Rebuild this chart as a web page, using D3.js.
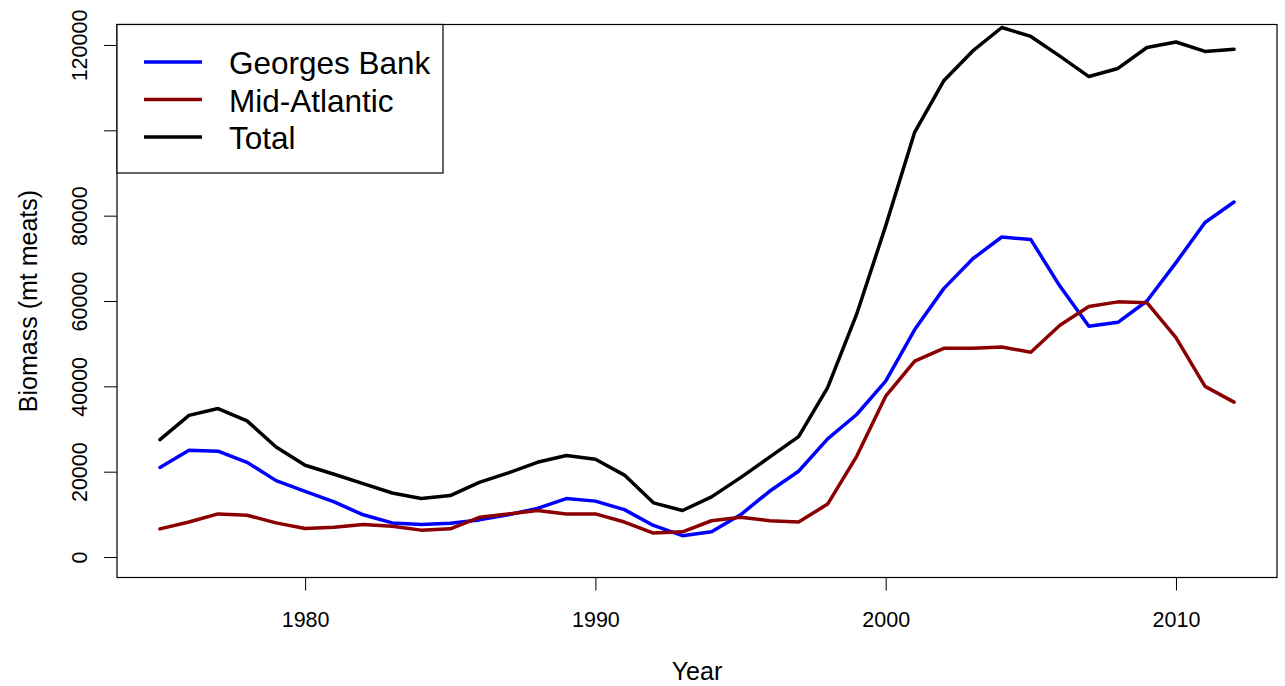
<!DOCTYPE html>
<html>
<head>
<meta charset="utf-8">
<script src="https://cdn.jsdelivr.net/npm/d3@7"></script>
<style>
  body { margin: 0; background: #fff; }
  text { font-family: "Liberation Sans", Arial, sans-serif; fill: #000; }
</style>
</head>
<body>
<div class="chart"></div>
<script>
var width = 1285;
var height = 686;

// data
var years = [1975, 1976, 1977, 1978, 1979, 1980, 1981, 1982, 1983, 1984,
             1985, 1986, 1987, 1988, 1989, 1990, 1991, 1992, 1993, 1994,
             1995, 1996, 1997, 1998, 1999, 2000, 2001, 2002, 2003, 2004,
             2005, 2006, 2007, 2008, 2009, 2010, 2011, 2012];

var georges_bank = [21000, 25000, 24800, 22200, 17900, 15400, 12900, 9900, 8000, 7600,
                    7900, 8700, 9900, 11400, 13700, 13100, 11100, 7400, 5000, 5900,
                    9900, 15400, 20100, 27700, 33400, 41200, 53300, 62900, 69900, 75000,
                    74400, 63500, 54100, 55000, 60000, 69000, 78400, 83200];

var mid_atlantic = [6600, 8200, 10100, 9800, 8000, 6700, 7000, 7600, 7200, 6300,
                    6600, 9300, 10100, 10900, 10100, 10100, 8200, 5600, 5900, 8500,
                    9300, 8500, 8200, 12400, 23600, 37700, 45900, 48900, 48900, 49200,
                    48000, 54300, 58700, 59800, 59600, 51400, 40000, 36300];

var total = [27500, 33200, 34800, 31900, 25800, 21500, 19400, 17200, 15000, 13700,
             14400, 17500, 19700, 22200, 23800, 22900, 19200, 12700, 10900, 14100,
             18600, 23400, 28200, 39700, 56900, 77600, 99600, 111600, 118600, 124100,
             122000, 117400, 112600, 114500, 119400, 120700, 118500, 119000];

var series_names = ["Georges Bank", "Mid-Atlantic", "Total"];
var series_colors = ["#0000ff", "#8b0000", "#000000"];

var x_ticks = [1980, 1990, 2000, 2010];
var y_ticks = [0, 20000, 40000, 60000, 80000, 100000, 120000];
var y_tick_labels = ["0", "20000", "40000", "60000", "80000", "", "120000"];

var margin = {
    top: 24.5,
    bottom: 108.5,
    left: 117,
    right: 8
}

var svg = d3.select(".chart").append("svg")
            .attr("width", width)
            .attr("height", height);

// scales (R style 4% padding)
var x_scale = d3.scaleLinear()
            .domain([1973.52, 2013.48])
            .range([margin.left, width - margin.right]);

var y_scale = d3.scaleLinear()
            .domain([-4800, 124800])
            .range([height - margin.bottom, margin.top]);

// lines
var line = d3.line()
            .x((d, i) => x_scale(years[i]))
            .y(d => y_scale(d));

var draw_order = [
    {values: total, color: series_colors[2]},
    {values: georges_bank, color: series_colors[0]},
    {values: mid_atlantic, color: series_colors[1]}
];

svg.append("g")
    .selectAll("path")
    .data(draw_order)
    .enter()
    .append("path")
    .attr("d", d => line(d.values))
    .attr("fill", "none")
    .attr("stroke", d => d.color)
    .attr("stroke-width", 3.5)
    .attr("stroke-linejoin", "round")
    .attr("stroke-linecap", "round");

// axes
var x_axis = svg.append("g")
            .attr("transform", "translate(0," + (height - margin.bottom) + ")")
            .call(d3.axisBottom(x_scale).tickValues(x_ticks).tickSize(13).tickFormat(d3.format("d")));
x_axis.select(".domain").remove();
x_axis.selectAll("line").attr("stroke", "#000");
x_axis.selectAll("text")
    .attr("y", 49.5)
    .attr("dy", null)
    .attr("font-size", "21.5px")
    .attr("font-family", null);

var y_axis = svg.append("g")
            .attr("transform", "translate(" + margin.left + ",0)")
            .call(d3.axisLeft(y_scale).tickValues(y_ticks).tickSize(13)
                  .tickFormat((d, i) => y_tick_labels[i]));
y_axis.select(".domain").remove();
y_axis.selectAll("line").attr("stroke", "#000");
y_axis.selectAll("text")
    .attr("x", null)
    .attr("dy", null)
    .attr("text-anchor", "middle")
    .attr("transform", "translate(-30,0) rotate(-90)")
    .attr("font-size", "21.5px")
    .attr("font-family", null);

// box
svg.append("rect")
    .attr("x", margin.left)
    .attr("y", margin.top)
    .attr("width", width - margin.left - margin.right)
    .attr("height", height - margin.top - margin.bottom)
    .attr("fill", "none")
    .attr("stroke", "#000")
    .attr("stroke-width", 1.2);

// axis titles
svg.append("text")
    .attr("x", (margin.left + width - margin.right) / 2)
    .attr("y", 680)
    .attr("text-anchor", "middle")
    .attr("font-size", "25px")
    .text("Year");

svg.append("text")
    .attr("transform", "translate(37," + ((margin.top + height - margin.bottom) / 2) + ") rotate(-90)")
    .attr("text-anchor", "middle")
    .attr("font-size", "25px")
    .text("Biomass (mt meats)");

// legend
var legend = svg.append("g")
            .attr("class", "legend");

legend.append("rect")
    .attr("x", margin.left)
    .attr("y", margin.top)
    .attr("width", 326)
    .attr("height", 148.5)
    .attr("fill", "#fff")
    .attr("stroke", "#000")
    .attr("stroke-width", 1.2);

var legend_items = legend.selectAll("g.item")
    .data(series_names)
    .enter()
    .append("g")
    .attr("class", "item")
    .attr("transform", (d, i) => "translate(0," + (62 + i * 37.5) + ")");

legend_items.append("line")
    .attr("x1", 144)
    .attr("x2", 202)
    .attr("stroke", (d, i) => series_colors[i])
    .attr("stroke-width", 3.5);

legend_items.append("text")
    .attr("x", 229)
    .attr("y", 12)
    .attr("font-size", "31.5px")
    .text(d => d);
</script>
</body>
</html>
